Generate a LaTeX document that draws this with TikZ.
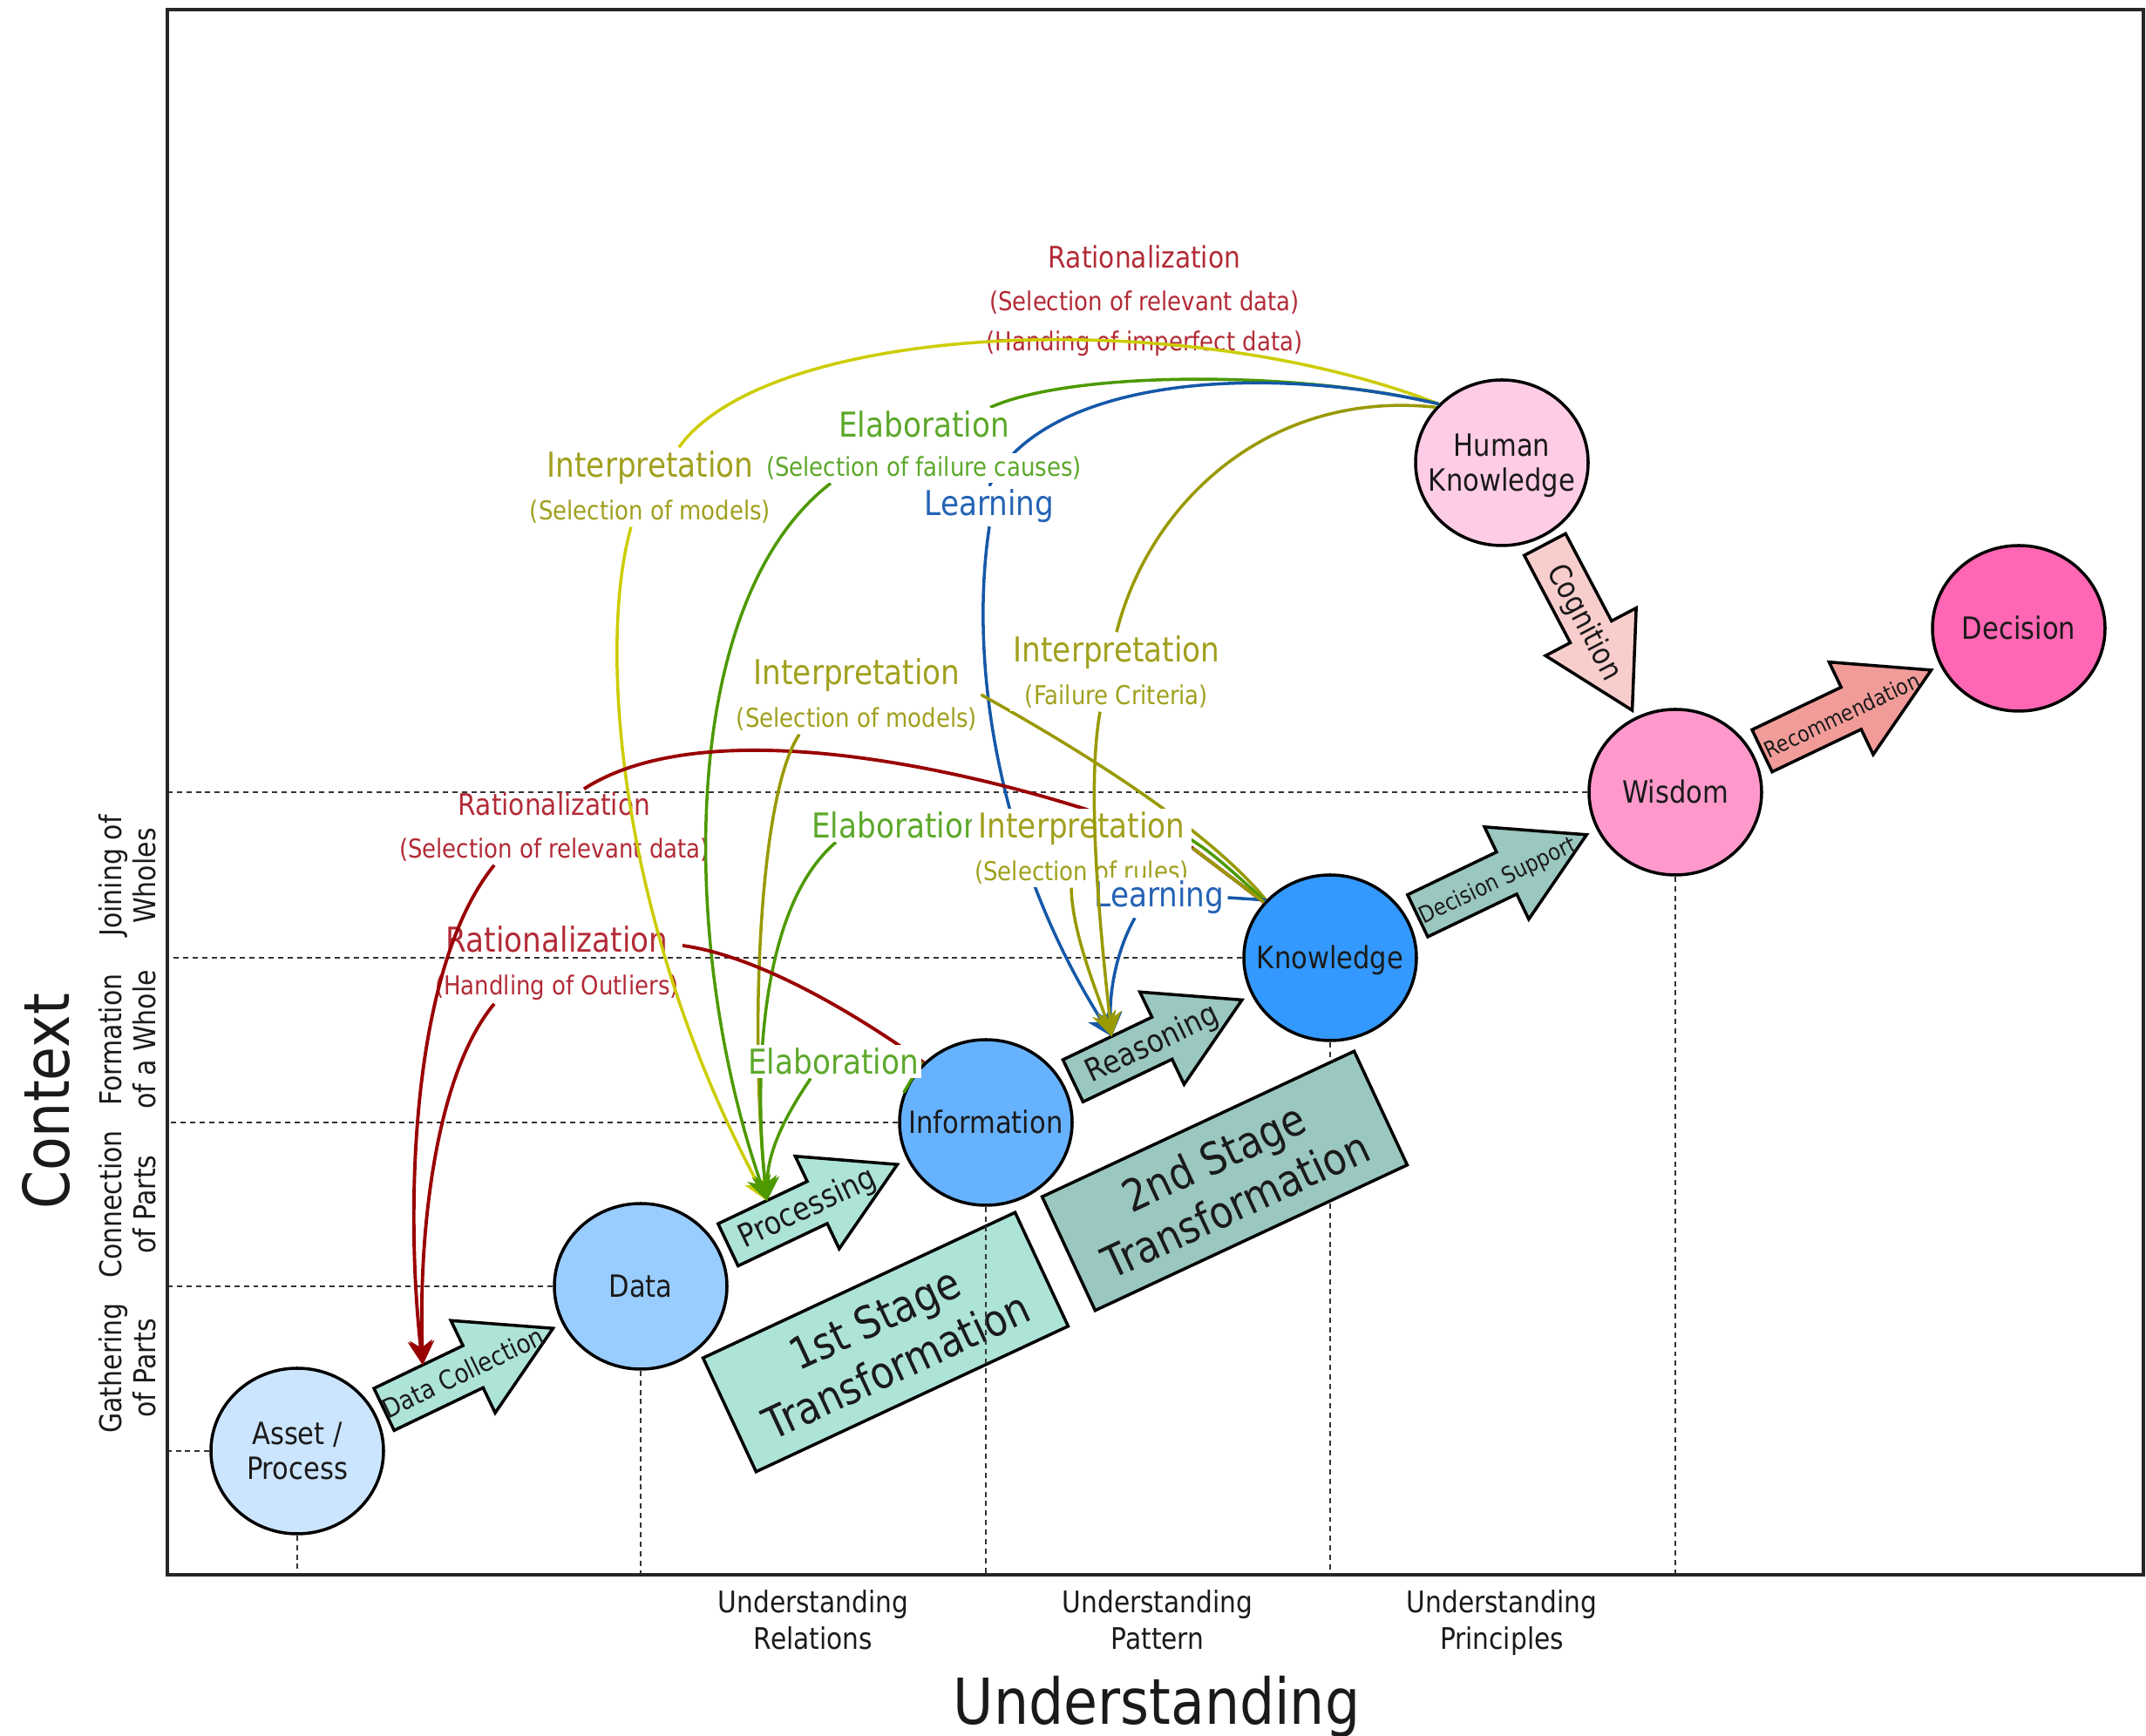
\documentclass[tikz,border=0pt]{standalone}
\usepackage{fontspec}
\setmainfont{DejaVu Sans}[FakeStretch=0.87]
\usepackage{xcolor}
\usetikzlibrary{arrows.meta, calc, shapes.geometric, shapes.arrows, backgrounds}
\definecolor{assetfill}{HTML}{CCE5FF}
\definecolor{datafill}{HTML}{99CCFF}
\definecolor{infofill}{HTML}{66B2FF}
\definecolor{knowfill}{HTML}{3399FF}
\definecolor{wisfill}{HTML}{FF99CC}
\definecolor{humfill}{HTML}{FFCCE6}
\definecolor{decfill}{HTML}{FF66B3}
\definecolor{mintfill}{HTML}{AEE3D7}
\definecolor{sagefill}{HTML}{9AC7BF}
\definecolor{cogfill}{HTML}{F8CECC}
\definecolor{recfill}{HTML}{F19C99}
\definecolor{gridcol}{HTML}{333333}
\definecolor{inktext}{HTML}{1A1A1A}
\definecolor{yelline}{HTML}{CCCC00}
\definecolor{oliveline}{HTML}{999900}
\definecolor{olivetext}{HTML}{A0A01E}
\definecolor{greenline}{HTML}{4D9900}
\definecolor{greentext}{HTML}{5CA82B}
\definecolor{blueline}{HTML}{1558A8}
\definecolor{bluetext}{HTML}{2463B5}
\definecolor{redline}{HTML}{990000}
\definecolor{redtext}{HTML}{B22A36}
\newcommand{\fNode}{\fontsize{10}{11.5}\selectfont}
\newcommand{\fEdge}{\fontsize{11.2}{13}\selectfont}
\newcommand{\fSub}{\fontsize{8.5}{10}\selectfont}
\newcommand{\fRat}{\fontsize{9.7}{13}\selectfont}
\newcommand{\fPhase}{\fontsize{14.4}{17}\selectfont}
\newcommand{\fRow}{\fontsize{9.8}{11.2}\selectfont}
\newcommand{\fTick}{\fontsize{9.7}{12}\selectfont}
\newcommand{\fAxis}{\fontsize{20.7}{25}\selectfont}
% text that may run past its shape without growing it
\newcommand{\overtext}[1]{\makebox[0pt]{\hspace{0.32cm}#1}}
\newcommand{\intext}[1]{\makebox[0pt]{\raisebox{-3.7pt}[0pt][0pt]{\begin{tabular}{@{}c@{}}#1\end{tabular}}}}
\pgfdeclarelayer{foreground}
\pgfsetlayers{background,main,foreground}
\tikzset{
  dikw/.style={
    ellipse, draw=black, line width=1pt,
    minimum width=1.98cm, minimum height=1.90cm, inner sep=0pt,
    font=\fNode, text=inktext,
  },
  flowarrow/.style={
    single arrow, draw=black, line width=1pt, sloped, pos=0.40,
    minimum height=2.15cm, single arrow head extend=0.32cm,
    single arrow tip angle=60, inner xsep=0pt, inner ysep=0pt,
    text height=0.37cm, text depth=0.13cm, text=inktext,
  },
  phasebox/.style={
    rectangle, draw=black, line width=1pt, rotate=25,
    minimum width=3.95cm, minimum height=1.44cm,
    align=center, font=\fPhase, text=inktext,
  },
  gridline/.style={gridcol, line width=0.5pt, dash pattern=on 1.7pt off 1.4pt},
  lab/.style={inner sep=1pt, align=center},
  whitelab/.style={lab, fill=white},
  intlab/.style={whitelab, text=olivetext, font=\fEdge},
  elalab/.style={whitelab, text=greentext, font=\fEdge},
  lrnlab/.style={whitelab, text=bluetext, font=\fEdge},
  ratlab/.style={lab, text=redtext, font=\fRat},
  headed/.style={-{Stealth[length=8pt, width=8pt, inset=2.5pt]}},
  interpy/.style={yelline, line width=1pt},
  interp/.style={oliveline, line width=1pt},
  elab/.style={greenline, line width=1pt},
  learn/.style={blueline, line width=1pt},
  ration/.style={redline, line width=1.1pt},
  rowlab/.style={rotate=90, align=center, font=\fRow, text=inktext},
  ticklab/.style={align=center, font=\fTick, text=inktext},
}

\begin{document}
\begin{tikzpicture}
\useasboundingbox (0,0) rectangle (24.62,19.92);

% ── axes ────────────────────────────────────────────────────────
\coordinate (origin) at (1.92,1.85);
\coordinate (corner) at (24.59,19.81);
\draw[line width=1.1pt, black!85] (origin) rectangle (corner);
\node[rotate=90, font=\fAxis, text=inktext] (ctx) at (0.53,7.28) {Context};
\node[font=\fAxis, text=inktext, anchor=base] (und) at (13.27,0.13) {Understanding};

\node[rowlab] (row1) at (1.46,4.22) {Gathering\\of Parts};
\node[rowlab] (row2) at (1.46,6.10) {Connection\\of Parts};
\node[rowlab] (row3) at (1.46,7.99) {Formation\\of a Whole};
\node[rowlab] (row4) at (1.46,9.87) {Joining of\\Wholes};

\node[ticklab] (tick1) at (9.33,1.33)  {Understanding\\Relations};
\node[ticklab] (tick2) at (13.28,1.33) {Understanding\\Pattern};
\node[ticklab] (tick3) at (17.23,1.30) {Understanding\\Principles};

% ── dikw chain ──────────────────────────────────────────────────
\node[dikw, fill=assetfill] (asset) at (3.41,3.27)   {\intext{Asset /\\Process}};
\node[dikw, fill=datafill]  (data)  at (7.35,5.16)   {\intext{Data}};
\node[dikw, fill=infofill]  (info)  at (11.31,7.04)  {\intext{Information}};
\node[dikw, fill=knowfill]  (know)  at (15.26,8.93)  {\intext{Knowledge}};
\node[dikw, fill=wisfill]   (wis)   at (19.22,10.83) {\intext{Wisdom}};
\node[dikw, fill=humfill]   (hk)    at (17.23,14.61) {\intext{Human\\Knowledge}};
\node[dikw, fill=decfill]   (dec)   at (23.16,12.71) {\intext{Decision}};

% ── block arrows between the stages ─────────────────────────────
\path (asset) -- node[flowarrow, fill=mintfill, font=\fontsize{8.6}{10}\selectfont] (dcol) {\overtext{Data Collection}} (data);
\path (data) -- node[flowarrow, fill=mintfill, font=\fontsize{10.4}{12}\selectfont] (proc) {\overtext{Processing}} (info);
\path (info) -- node[flowarrow, fill=sagefill, font=\fontsize{10.3}{12}\selectfont] (reas) {\overtext{Reasoning}} (know);
\path (know) -- node[flowarrow, fill=sagefill, font=\fontsize{7.5}{9}\selectfont] (dsup) {\overtext{Decision Support}} (wis);
\path (wis) -- node[flowarrow, fill=recfill, font=\fontsize{7.2}{9}\selectfont] (reco) {\overtext{Recommendation}} (dec);
\path (hk) -- node[flowarrow, fill=cogfill, font=\fontsize{9.9}{12}\selectfont] (cogn) {\overtext{Cognition}} (wis);

\node[phasebox, fill=sagefill] (stage2) at (14.05,6.37) {2nd Stage\\Transformation};

\coordinate (dcin)   at ($(asset)!0.5!(data) + (-0.53,0.04)$);
\coordinate (procin) at ($(data)!0.5!(info) + (-0.53,0.04)$);
\coordinate (reasin) at ($(info)!0.5!(know) + (-0.53,0.04)$);

% ── grid ────────────────────────────────────────────────────────
\begin{scope}[on background layer]
  \node[phasebox, fill=mintfill] (stage1) at (10.16,4.52) {1st Stage\\Transformation};
  \foreach \n in {asset, data, info, know, wis} {
    \draw[gridline] (\n.west) -- (\n.west -| origin);
    \draw[gridline] (\n.south) -- (\n.south |- origin);
  }
\end{scope}

% ── labels ──────────────────────────────────────────────────────
\node[ratlab] (ratTop) at (13.13,16.47) {Rationalization\\[1pt]{\fSub (Selection of relevant data)}\\{\fSub (Handing of imperfect data)}};
\node[ratlab] (ratB) at (6.36,10.43) {Rationalization\\[1pt]{\fSub (Selection of relevant data)}};
\node[ratlab, font=\fEdge] (ratC) at (6.39,8.87) {Rationalization\\[1pt]{\fSub (Handling of Outliers)}};

\begin{pgfonlayer}{foreground}
  \node[intlab] (intA) at (7.46,14.33)  {Interpretation\\[1pt]{\fSub (Selection of models)}};
  \node[elalab] (elaA) at (10.60,15.05) {Elaboration};
  \node[elalab, font=\fSub] (elaAsub) at (10.60,14.55) {(Selection of failure causes)};
  \node[lrnlab] (lrnA) at (11.35,14.11) {Learning};
  \node[intlab] (intB) at (9.83,11.95)  {Interpretation\\[1pt]{\fSub (Selection of models)}};
  \node[intlab] (intC) at (12.81,12.21) {Interpretation\\[1pt]{\fSub (Failure Criteria)}};
  \node[elalab] (elaB) at (10.29,10.45) {Elaboration};
  \node[intlab] (intD) at (12.41,10.19) {Interpretation\\[1pt]{\fSub (Selection of rules)}};
  \node[lrnlab] (lrnB) at (13.30,9.62)  {Learning};
  \node[elalab] (elaC) at (9.56,7.74)   {Elaboration};
\end{pgfonlayer}

% ── links from human knowledge ──────────────────────────────────
\draw[interpy] (hk.137) .. controls (13.5,16.45) and (8.8,16.2) .. ([xshift=3.3mm]intA.north);
\draw[interpy, headed] ([xshift=-2.2mm]intA.south) .. controls (6.85,12.5) and (7.1,9.3) .. (procin);
\draw[elab] (hk.137) .. controls (14.9,15.67) and (12.3,15.67) .. ([xshift=7.6mm]elaA.north);
\draw[elab, headed] ([xshift=-10.7mm]elaAsub.south) .. controls (7.75,13.0) and (7.8,9.0) .. (procin);
\draw[learn] (hk.137) .. controls (14.5,15.75) and (12.0,15.6) .. (lrnA.north);
\draw[learn, headed] (lrnA.south) .. controls (11.1,12.2) and (11.5,10.0) .. (reasin);
\draw[interp] (hk.140) .. controls (14.6,15.45) and (13.2,14.2) .. (intC.north);

% ── links from knowledge ────────────────────────────────────────
\draw[ration] (know.140) -- (intD.east) .. controls (12.0,10.9) and (8.3,11.9) .. ([xshift=3.4mm]ratB.north);
\draw[ration, headed] ([xshift=-6.9mm]ratB.south) .. controls (4.7,8.8) and (4.65,6.0) .. (dcin);
\draw[interp] (know.138) .. controls (13.9,10.35) and (12.6,11.2) .. (intB.east);
\draw[interp, headed] ([xshift=-6.6mm]intB.south) .. controls (8.7,10.8) and (8.6,8.0) .. (procin);
\draw[elab] (know.139) .. controls (13.4,10.6) .. (elaB.east);
\draw[elab, headed] ([xshift=-7mm]elaB.south) .. controls (8.7,9.5) and (8.65,7.5) .. (procin);
\draw[learn] (know.138) -- (lrnB.east);
\draw[learn, headed] ([xshift=-2.8mm]lrnB.south) .. controls (12.8,9.0) and (12.72,8.5) .. (reasin);
\draw[interp] (know.140) -- (intD.east);
\draw[interp, headed] ([xshift=-1.2mm]intD.south) .. controls (12.3,9.2) and (12.6,8.5) .. (reasin);

% ── links from information ──────────────────────────────────────
\draw[ration] (info.136) .. controls (9.8,8.3) and (8.7,8.95) .. ([yshift=2mm]ratC.east);
\draw[ration, headed] ([xshift=-7.2mm]ratC.south) .. controls (5.0,7.6) and (4.8,5.8) .. (dcin);
\draw[elab] (info.160) -- (elaC.east);
\draw[elab, headed] ([xshift=-2.6mm]elaC.south) .. controls (9.0,7.1) and (8.8,6.7) .. (procin);

% failure criteria link runs over the rules label
\begin{pgfonlayer}{foreground}
  \draw[interp, headed] ([xshift=-1.9mm]intC.south) .. controls (12.45,10.8) and (12.65,9.0) .. (reasin);
\end{pgfonlayer}

\end{tikzpicture}
\end{document}
